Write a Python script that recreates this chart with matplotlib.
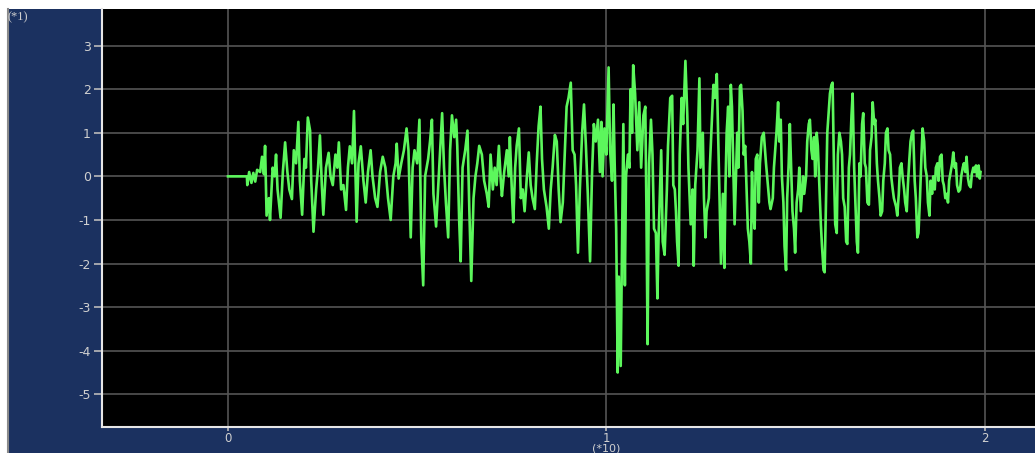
import numpy as np
import matplotlib
matplotlib.use("Agg")
import matplotlib.pyplot as plt
from matplotlib.patches import Rectangle
from matplotlib.lines import Line2D

# tempo em segundos e aceleração
tempo = [
    0.0, 0.50, 0.51, 0.56, 0.62, 0.67, 0.72, 0.77, 0.85, 0.90, 0.95, 0.98, 1.02, 1.08, 1.11,
    1.18, 1.23, 1.27, 1.31, 1.39, 1.45, 1.51, 1.57, 1.62, 1.69, 1.74, 1.80, 1.86, 1.90,
    1.96, 2.02, 2.06, 2.11, 2.17, 2.20, 2.26, 2.33, 2.38, 2.43, 2.48, 2.52, 2.59, 2.66,
    2.71, 2.77, 2.84, 2.89, 2.93, 2.99, 3.05, 3.12, 3.17, 3.22, 3.28, 3.33, 3.40, 3.45,
    3.51, 3.58, 3.64, 3.70, 3.77, 3.82, 3.89, 3.95, 4.02, 4.09, 4.16, 4.23, 4.30, 4.37,
    4.43, 4.46, 4.51, 4.58, 4.65, 4.72, 4.77, 4.83, 4.88, 4.93, 5.00, 5.06, 5.11, 5.16,
    5.21, 5.29, 5.34, 5.39, 5.43, 5.50, 5.57, 5.62, 5.66, 5.71, 5.76, 5.82, 5.87, 5.92,
    5.98, 6.03, 6.06, 6.11, 6.15, 6.20, 6.27, 6.33, 6.38, 6.43, 6.49, 6.54, 6.59, 6.64,
    6.71, 6.77, 6.84, 6.89, 6.94, 7.00, 7.05, 7.10, 7.16, 7.21, 7.24, 7.30, 7.37, 7.42,
    7.45, 7.51, 7.54, 7.59, 7.63, 7.69, 7.74, 7.79, 7.84, 7.90, 7.95, 8.00, 8.05, 8.11,
    8.16, 8.21, 8.26, 8.30, 8.35, 8.42, 8.48, 8.53, 8.58, 8.64, 8.69, 8.74, 8.79, 8.85,
    8.90, 8.95, 9.00, 9.06, 9.11, 9.16, 9.20, 9.25, 9.30, 9.36, 9.41, 9.46, 9.51, 9.57,
    9.62, 9.67, 9.72, 9.78, 9.83, 9.87, 9.90, 9.95, 10.00, 10.06, 10.10, 10.15, 10.19,
    10.22, 10.26, 10.30, 10.33, 10.38, 10.41, 10.45, 10.49, 10.52, 10.57, 10.61, 10.64,
    10.68, 10.71, 10.76, 10.82, 10.87, 10.92, 10.98, 11.03, 11.06, 11.09, 11.13, 11.18,
    11.22, 11.26, 11.31, 11.35, 11.38, 11.42, 11.45, 11.49, 11.54, 11.60, 11.63, 11.69,
    11.74, 11.77, 11.81, 11.84, 11.87, 11.91, 11.94, 11.99, 12.03, 12.09, 12.14, 12.17,
    12.23, 12.28, 12.31, 12.35, 12.41, 12.46, 12.49, 12.55, 12.58, 12.62, 12.65, 12.71,
    12.74, 12.80, 12.83, 12.87, 12.92, 12.96, 12.99, 13.03, 13.08, 13.12, 13.15, 13.18,
    13.22, 13.25, 13.29, 13.32, 13.36, 13.39, 13.42, 13.46, 13.49, 13.53, 13.56, 13.60,
    13.63, 13.67, 13.71, 13.74, 13.78, 13.82, 13.85, 13.88, 13.92, 13.95, 13.99, 14.03,
    14.06, 14.11, 14.16, 14.22, 14.27, 14.31, 14.34, 14.40, 14.43, 14.47, 14.50, 14.54,
    14.57, 14.61, 14.64, 14.68, 14.71, 14.75, 14.78, 14.82, 14.85, 14.89, 14.92, 14.96,
    14.99, 15.03, 15.07, 15.10, 15.14, 15.20, 15.23, 15.28, 15.31, 15.35, 15.38, 15.42,
    15.45, 15.49, 15.52, 15.56, 15.59, 15.63, 15.67, 15.70, 15.74, 15.77, 15.81, 15.84,
    15.88, 15.91, 15.95, 15.98, 16.02, 16.05, 16.09, 16.12, 16.16, 16.20, 16.23, 16.26,
    16.30, 16.34, 16.37, 16.41, 16.44, 16.48, 16.51, 16.55, 16.58, 16.62, 16.65, 16.69,
    16.72, 16.76, 16.79, 16.83, 16.86, 16.90, 16.94, 16.97, 17.01, 17.04, 17.08, 17.11,
    17.15, 17.18, 17.22, 17.25, 17.29, 17.32, 17.36, 17.39, 17.43, 17.46, 17.50, 17.53,
    17.57, 17.60, 17.66, 17.69, 17.73, 17.76, 17.80, 17.83, 17.87, 17.90, 17.94, 17.97,
    18.01, 18.04, 18.08, 18.11, 18.15, 18.18, 18.22, 18.25, 18.29, 18.33, 18.36, 18.40,
    18.43, 18.47, 18.50, 18.54, 18.57, 18.61, 18.64, 18.68, 18.71, 18.75, 18.78, 18.82,
    18.86, 18.89, 18.92, 18.96, 19.00, 19.03, 19.06, 19.10, 19.14, 19.17, 19.21, 19.24,
    19.27, 19.31, 19.35, 19.38, 19.42, 19.45, 19.49, 19.52, 19.56, 19.59, 19.63, 19.66,
    19.70, 19.73, 19.77, 19.80, 19.84, 19.87, 19.89,
]
aceleracao = [
    0.0, 0.0, -0.2, 0.1, -0.15, 0.08, -0.12, 0.15, 0.1, 0.45, 0.05, 0.7, -0.9, -0.5, -1.0,
    0.2, 0.0, 0.5, -0.3, -0.95, 0.1, 0.78, 0.1, -0.3, -0.52, 0.6, 0.3, 1.25, -0.1,
    -0.88, 0.4, 0.2, 1.35, 1.05, -0.1, -1.27, -0.3, 0.2, 0.94, -0.2, -0.88, 0.2, 0.54,
    0.0, -0.2, 0.5, 0.2, 0.78, -0.3, -0.2, -0.77, 0.2, 0.69, 0.3, 1.5, -1.04, 0.3,
    0.69, -0.1, -0.6, 0.1, 0.6, 0.0, -0.5, -0.7, 0.1, 0.45, 0.2, -0.5, -1.0, 0.0,
    0.3, 0.75, -0.05, 0.3, 0.6, 1.1, 0.6, -1.4, 0.2, 0.6, 0.3, 1.3, -1.5, -2.5,
    0.0, 0.4, 0.8, 1.3, -0.4, -1.15, 0.0, 0.8, 1.45, 0.2, -0.6, -1.4, 0.6, 1.4,
    0.9, 1.3, 0.7, -1.0, -1.95, 0.2, 0.6, 1.05, -0.8, -2.4, -0.5, 0.0, 0.3, 0.7,
    0.5, -0.1, -0.4, -0.7, 0.5, -0.3, 0.2, -0.2, 0.7, -0.1, -0.45, 0.1, 0.6, 0.0,
    0.9, -0.5, -1.05, 0.2, 0.7, 1.1, -0.5, -0.3, -0.8, 0.0, 0.55, -0.2, -0.5, -0.75,
    0.3, 1.15, 1.6, 0.4, -0.3, -0.7, -1.2, -0.3, 0.2, 0.95, 0.8, -0.3, -1.05, -0.6,
    0.5, 1.6, 1.8, 2.15, 0.6, 0.5, -0.2, -1.75, -0.3, 1.0, 1.65, 0.7, -0.4, -1.95,
    0.0, 1.2, 0.8, 1.3, 0.1, 1.25, 0.0, 1.1, 0.5, 2.5, 0.6, -0.1, 1.65,
    0.3, -1.2, -4.5, -2.3, -4.35, -1.9, 1.2, -2.5, 0.0, 0.5, 0.2, 2.0,
    1.0, 2.55, 1.9, 0.6, 1.7, 0.2, 1.4, 1.6, -0.8, -3.85, 0.3, 1.3,
    0.5, -1.2, -1.3, -2.8, -1.4, -0.3, 0.6, -1.5, -1.8, -0.3, 0.7, 1.8,
    1.85, -0.2, -0.3, -0.8, -1.5, -2.05, 0.5, 1.8, 1.2, 2.65, 1.4, 0.2,
    -1.1, -0.3, -2.05, -0.2, 0.6, 2.25, 0.2, 1.0, -0.5, -1.4, -0.8, -0.5,
    0.3, 1.5, 2.1, 1.8, 2.35, 0.8, -0.3, -2.0, -0.4, -2.1, -0.2, 1.0,
    1.6, 0.0, 2.1, 1.6, 0.0, -1.1, -0.2, 1.0, 0.2, 2.05, 2.1, 1.5,
    0.5, 0.7, -0.4, -1.2, -1.5, -2.0, 0.1, -0.8, -1.2, 0.4, 0.5, -0.6,
    0.3, 0.9, 1.0, 0.3, -0.2, -0.6, -0.75, -0.5, 0.2, 0.7, 1.05, 1.7,
    0.8, 1.3, 0.0, -0.6, -1.6, -2.15, -0.5, 0.3, 1.2, 0.1, -0.8, -1.2,
    -1.75, -0.6, -0.3, 0.2, -0.8, 0.0, -0.4, 0.0, 0.8, 1.2, 1.3, 0.6,
    0.4, 0.9, 0.0, 1.0, 0.7, -0.2, -1.1, -1.6, -2.15, -2.2, -0.3, 1.0,
    1.5, 1.9, 2.1, 2.15, 0.0, -1.1, -1.3, 0.5, 1.0, 0.8, 0.5, -0.5,
    -0.7, -1.5, -1.55, 0.2, 0.5, 1.4, 1.9, 0.2, -0.5, -1.5, -1.75, 0.3,
    0.0, 1.2, 1.45, 0.3, 0.2, -0.6, -0.65, 0.6, 0.9, 1.7, 1.2, 1.3,
    0.3, -0.1, -0.5, -0.9, -0.8, -0.1, 0.3, 1.0, 1.1, 0.6, 0.5, 0.0,
    -0.3, -0.5, -0.7, -0.9, -0.4, 0.2, 0.3, 0.0, -0.3, -0.6, -0.8, -0.2,
    0.4, 0.8, 1.0, 1.05, -0.1, -0.5, -1.4, -1.3, -0.5, 0.5, 1.1, 0.8,
    0.2, 0.0, -0.6, -0.9, -0.1, -0.4, 0.0, -0.3, 0.2, 0.3, -0.1, 0.45,
    0.5, -0.1, -0.2, -0.5, -0.4, -0.6, -0.1, 0.1, 0.3, 0.55, 0.2, 0.3,
    -0.2, -0.35, -0.3, 0.0, 0.2, 0.3, 0.1, 0.45, -0.05, -0.2, -0.25, 0.05,
    0.2, 0.1, 0.25, 0.0, 0.25, -0.05, 0.1,
]

y_ticks = [3, 2, 1, 0, -1, -2, -3, -4, -5]
x_ticks = [0, 1, 2]

azul = "#1b3160"
verde = "#5cf75c"
cinza_txt = "#d0d0d0"

fig = plt.figure(figsize=(10.35, 4.53), dpi=100, facecolor="white")

# painel azul com borda cinza à esquerda (atrás dos eixos)
fundo = Rectangle((8 / 1035, 0), 1 - 8 / 1035, 1 - 9 / 453,
                  transform=fig.transFigure, facecolor=azul,
                  edgecolor="none", zorder=-10)
fig.patches.append(fundo)
fig.lines.append(Line2D([7.5 / 1035, 7.5 / 1035], [0, 1 - 9 / 453],
                        transform=fig.transFigure, color="#8a8a8a", lw=1.5,
                        zorder=-9))

ax = fig.add_axes([102 / 1035, 26 / 453, 933 / 1035, 418 / 453])
ax.set_zorder(5)
ax.set_facecolor("black")

t = np.array(tempo) / 10.0
ax.plot(t, aceleracao, color=verde, lw=1.9, zorder=3)

ax.set_xlim(-0.333, 2.133)
ax.set_ylim(-5.75, 3.84)
ax.set_xticks(x_ticks)
ax.set_xticklabels([str(v) for v in x_ticks])
ax.set_yticks(y_ticks)
ax.set_yticklabels([str(v) for v in y_ticks])

ax.grid(True, color="#555555", lw=1.2)
ax.set_axisbelow(True)

for s in ["top", "right"]:
    ax.spines[s].set_visible(False)
for s in ["left", "bottom"]:
    ax.spines[s].set_color("#e6e6e6")
    ax.spines[s].set_linewidth(1.5)

ax.tick_params(axis="y", colors="#bbbbbb", length=6, width=1.2, labelcolor=cinza_txt,
               labelsize=9, pad=2)
ax.tick_params(axis="x", colors="#bbbbbb", length=3, width=1.2, labelcolor=cinza_txt,
               labelsize=8.5, pad=0.5)

fig.text(8 / 1035, 1 - 17 / 453, "(*1)", color=cinza_txt, fontsize=9,
         family="Liberation Serif", va="center", ha="left")
fig.text(606 / 1035, 1 - 448.5 / 453, "(*10)", color=cinza_txt, fontsize=8,
         va="center", ha="center")

fig.savefig("out.png", dpi=100, facecolor=fig.get_facecolor())
